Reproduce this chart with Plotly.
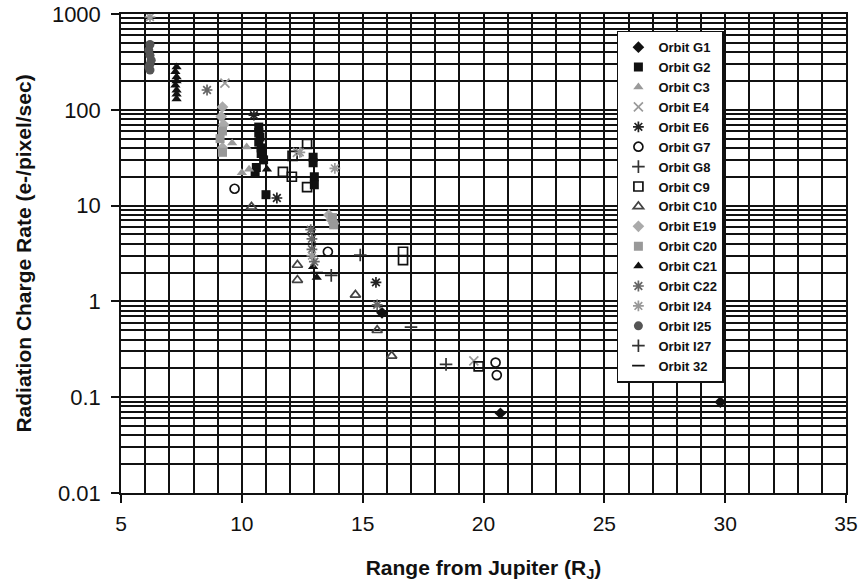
import plotly.graph_objects as go

# ---- data ----
g1_x = [15.8, 20.7, 29.8]
g1_y = [0.76, 0.068, 0.089]

g2_x = [10.7, 10.7, 10.75, 10.7, 10.8, 10.8, 10.9, 10.6, 10.55, 11.0, 12.95, 12.95, 13.0, 13.0]
g2_y = [66, 58, 52, 46, 40, 35, 30, 25, 22, 13, 32, 28, 20, 16.5]

c3_x = [10.2, 10.0, 10.3, 9.6]
c3_y = [41, 22, 24, 45]

e4_x = [9.3, 12.3, 19.6]
e4_y = [190, 36, 0.24]

e6_x = [11.45, 15.55, 10.5]
e6_y = [12, 1.58, 88]

g7_x = [9.7, 13.56, 20.5, 20.55]
g7_y = [15, 3.3, 0.23, 0.17]

g8_x = [14.9]
g8_y = [3.05]

c9_x = [11.7, 12.07, 12.1, 12.7, 12.7, 16.67, 16.67, 19.8]
c9_y = [22.5, 20, 33, 44, 15.6, 3.3, 2.7, 0.21]

c10_x = [10.4, 12.3, 12.3, 14.7, 15.6, 16.2]
c10_y = [9.7, 2.4, 1.67, 1.17, 0.5, 0.27]

e19_x = [9.2, 9.15, 9.25, 9.2, 13.7, 13.8, 13.6]
e19_y = [107, 85, 70, 40, 7.1, 6.5, 8.0]

c20_x = [9.2, 9.1, 9.2, 13.8, 13.75]
c20_y = [60, 50, 36, 6.3, 7.5]

c21_x = [7.3, 7.25, 7.3, 7.3, 7.25, 7.3, 7.3, 7.3, 11.04, 12.95, 13.1]
c21_y = [280, 250, 220, 200, 180, 160, 145, 130, 24, 2.3, 1.78]

c22_x = [8.56, 12.85, 12.9, 12.9, 13.0, 15.6]
c22_y = [161, 5.6, 4.5, 3.5, 2.6, 0.92]

i24_x = [6.2, 12.4, 13.85, 12.9]
i24_y = [930, 36, 24.5, 3.0]

i25_x = [6.2, 6.15, 6.2, 6.25, 6.2, 6.15, 6.2]
i25_y = [480, 420, 370, 330, 300, 280, 260]

i27_x = [13.7, 17.0, 18.45]
i27_y = [1.87, 0.54, 0.22]

o32_x = [13.1]
o32_y = [2.0]

series = [
    ("Orbit G1", g1_x, g1_y, "diamond", "#111111", False),
    ("Orbit G2", g2_x, g2_y, "square", "#111111", False),
    ("Orbit C3", c3_x, c3_y, "triangle-up", "#9a9a9a", False),
    ("Orbit E4", e4_x, e4_y, "x-thin-open", "#9a9a9a", True),
    ("Orbit E6", e6_x, e6_y, "asterisk-open", "#222222", True),
    ("Orbit G7", g7_x, g7_y, "circle-open", "#111111", True),
    ("Orbit G8", g8_x, g8_y, "cross-thin-open", "#333333", True),
    ("Orbit C9", c9_x, c9_y, "square-open", "#111111", True),
    ("Orbit C10", c10_x, c10_y, "triangle-up-open", "#444444", True),
    ("Orbit E19", e19_x, e19_y, "diamond", "#aaaaaa", False),
    ("Orbit C20", c20_x, c20_y, "square", "#999999", False),
    ("Orbit C21", c21_x, c21_y, "triangle-up", "#111111", False),
    ("Orbit C22", c22_x, c22_y, "asterisk-open", "#666666", True),
    ("Orbit I24", i24_x, i24_y, "asterisk-open", "#999999", True),
    ("Orbit I25", i25_x, i25_y, "circle", "#555555", False),
    ("Orbit I27", i27_x, i27_y, "cross-thin-open", "#333333", True),
    ("Orbit 32", o32_x, o32_y, "line-ew-open", "#111111", True),
]

fig = go.Figure()
for name, xs, ys, sym, col, is_open in series:
    marker = dict(symbol=sym, size=9, color=col)
    if is_open:
        marker["line"] = dict(color=col, width=1.7)
    fig.add_trace(go.Scatter(x=xs, y=ys, mode="markers", name=name, marker=marker))

grid = "#111111"
fig.update_layout(
    width=859, height=584,
    margin=dict(l=121, r=13, t=14, b=91),
    paper_bgcolor="white", plot_bgcolor="white",
    font=dict(family="Arial, Liberation Sans", color="#111111"),
    showlegend=True,
    legend=dict(
        x=0.684, y=0.965, xanchor="left", yanchor="top",
        bgcolor="white", bordercolor="#111111", borderwidth=1.5,
        font=dict(size=13, weight="bold", color="#111111"),
        itemwidth=30,
    ),
)
fig.update_xaxes(
    range=[5, 35], tick0=5, dtick=5, automargin=False,
    ticks="outside", ticklen=8, tickwidth=1.5, tickcolor=grid,
    showline=True, linecolor=grid, linewidth=1.5, mirror=True,
    showgrid=True, gridcolor=grid, gridwidth=1.6,
    minor=dict(dtick=1, showgrid=True, gridcolor=grid, gridwidth=1.6),
    tickfont=dict(size=21),
    ticklabelstandoff=3,
    title=dict(text="Range from Jupiter (R<sub>J</sub>)", font=dict(size=21, weight="bold"), standoff=26),
    zeroline=False,
)
fig.update_yaxes(
    type="log", range=[-2, 3], automargin=False,
    tickvals=[0.01, 0.1, 1, 10, 100, 1000],
    ticktext=["0.01", "0.1", "1", "10", "100", "1000"],
    ticks="outside", ticklen=8, tickwidth=1.5, tickcolor=grid,
    showline=True, linecolor=grid, linewidth=1.5, mirror=True,
    showgrid=True, gridcolor=grid, gridwidth=1.6,
    minor=dict(dtick="D1", showgrid=True, gridcolor=grid, gridwidth=1.6),
    tickfont=dict(size=22),
    ticklabelstandoff=6,
    title=dict(text="Radiation Charge Rate (e-/pixel/sec)", font=dict(size=21, weight="bold"), standoff=15),
    zeroline=False,
)

fig.write_html("out.html")
